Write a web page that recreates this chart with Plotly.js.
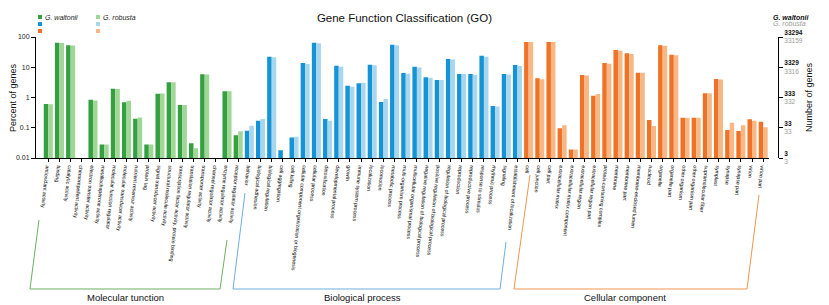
<!DOCTYPE html>
<html>
<head>
<meta charset="utf-8">
<script src="https://cdn.plot.ly/plotly-3.0.1.min.js"></script>
<style>html,body{margin:0;padding:0;background:#fff;}#chart{width:829px;height:305px;}</style>
</head>
<body>
<div id="chart"></div>
<script>
// ---- Data (percent of genes) ----
const mfCats = ["antioxidant activity","binding","catalytic activity","chemorepellent activity","electron transfer activity","metallochaperone activity","molecular function regulator","molecular transducer activity","nutrient reservoir activity","protein tag","signal transducer activity","structural molecule activity","transcription factor activity, protein binding","translation regulator activity","transporter activity","channel regulator activity","enzyme regulator activity","receptor regulator activity"];
const mfWaltonii = [0.61, 65, 53, null, 0.84, 0.028, 1.95, 0.70, 0.20, 0.028, 1.33, 3.2, 0.57, 0.031, 5.9, null, 1.6, 0.056];
const mfRobusta  = [0.60, 63, 52, null, 0.80, 0.028, 1.90, 0.78, 0.22, 0.028, 1.35, 3.2, 0.57, 0.021, 5.8, null, 1.6, 0.077];

const bpCats = ["behavior","biological adhesion","biological regulation","cell aggregation","cell killing","cellular component organization or biogenesis","cellular process","detoxification","developmental process","growth","immune system process","localization","locomotion","metabolic process","multi-organism process","multicellular organismal process","negative regulation of biological process","positive regulation of biological process","regulation of biological process","reproduction","reproductive process","response to stimulus","rhythmic process","signaling","establishment of localization"];
const bpWaltonii = [0.080, 0.171, 22.4, 0.018, 0.048, 13.8, 65, 0.195, 11.3, 2.46, 2.94, 12.2, 0.71, 55.8, 6.46, 10.4, 4.64, 3.79, 18.7, 5.98, 5.98, 24.1, 0.52, 5.98, 11.9];
const bpRobusta  = [0.117, 0.195, 21.3, null, 0.050, 12.8, 62, 0.171, 10.4, 2.28, 3.10, 11.6, 0.89, 53.0, 6.10, 9.9, 4.50, 3.79, 17.9, 5.98, 5.70, 22.4, 0.50, 5.80, 11.0];

const ccCats = ["cell","cell junction","cell part","extracellular matrix","extracellular matrix component","extracellular region","extracellular region part","protein-containing complex","membrane","membrane part","membrane-enclosed lumen","nucleoid","organelle","organelle part","other organism","other organism part","supramolecular fiber","symplast","synapse","synapse part","virion","virion part"];
const ccWaltonii = [68, 4.3, 68, 0.096, 0.019, 5.5, 1.15, 13.8, 37, 28.9, 6.6, 0.18, 53, 26, 0.215, 0.215, 1.37, 4.1, 0.084, 0.078, 0.19, 0.159];
const ccRobusta  = [68, 3.98, 68, 0.12, 0.019, 5.3, 1.31, 13.0, 35, 27.5, 6.6, 0.114, 51, 25, 0.215, 0.215, 1.37, 3.9, 0.147, 0.12, 0.17, 0.103];

const groupNames = ["Molecular tunction","Biological process","Cellular component"];
const speciesNames = ["G. waltonii","G. robusta"];
const totalWaltonii = 33294;
const totalRobusta = 33159;
const pctTicks = [0.01, 0.1, 1, 10, 100];

// ---- Styles ----
const darkCols  = ["rgb(52,160,66)","rgb(20,148,214)","rgb(240,114,38)"];
const lightCols = ["rgb(160,214,150)","rgb(168,214,236)","rgb(248,184,134)"];
const bracketCols = ["rgb(110,175,100)","rgb(110,175,225)","rgb(240,150,80)"];

const cats = mfCats.concat(bpCats, ccCats);
const wVals = mfWaltonii.concat(bpWaltonii, ccWaltonii);
const rVals = mfRobusta.concat(bpRobusta, ccRobusta);
const grp = mfCats.map(()=>0).concat(bpCats.map(()=>1), ccCats.map(()=>2));

const W = 829, H = 305;
const mL = 36, mR = 51, mT = 37, mB = 147;
const pw = W - mL - mR, ph = H - mT - mB;
const px = v => (v - mL) / pw;
const py = v => (H - mB - v) / ph;

const traces = [
  {type:'bar', name:speciesNames[0], x:cats, y:wVals, marker:{color:grp.map(g=>darkCols[g])}, showlegend:false, hoverinfo:'x+y'},
  {type:'bar', name:speciesNames[1], x:cats, y:rVals, marker:{color:grp.map(g=>lightCols[g])}, showlegend:false, hoverinfo:'x+y'},
  {type:'scatter', mode:'markers', x:[cats[0]], y:[1], yaxis:'y2', marker:{opacity:0}, showlegend:false, hoverinfo:'skip'}
];

const rightText = pctTicks.map(p => "<b>" + Math.round(totalWaltonii*p/100) + "</b><br><span style='color:#9a9a9a'>" + Math.round(totalRobusta*p/100) + "</span>");

const font = "Liberation Sans, Arial, sans-serif";
const shapes = [];
const annotations = [];

// legend squares + labels (top-left)
[0,1,2].forEach(i => {
  const y0 = 15 + i*7;
  shapes.push({type:'rect', xref:'paper', yref:'paper', x0:px(38), x1:px(42), y0:py(y0), y1:py(y0+4), fillcolor:darkCols[i], line:{width:0}});
  shapes.push({type:'rect', xref:'paper', yref:'paper', x0:px(96), x1:px(100), y0:py(y0), y1:py(y0+4), fillcolor:lightCols[i], line:{width:0}});
});
annotations.push({xref:'paper', yref:'paper', x:px(43), y:py(17), xanchor:'left', yanchor:'middle', showarrow:false, text:"<i>"+speciesNames[0]+"</i>", font:{size:7, color:'#222', family:font}});
annotations.push({xref:'paper', yref:'paper', x:px(101), y:py(17), xanchor:'left', yanchor:'middle', showarrow:false, text:"<i>"+speciesNames[1]+"</i>", font:{size:7, color:'#222', family:font}});
// top-right species key
annotations.push({xref:'paper', yref:'paper', x:px(771), y:py(17), xanchor:'left', yanchor:'middle', showarrow:false, text:"<b><i>"+speciesNames[0]+"</i></b>", font:{size:7, color:'#111', family:font}});
annotations.push({xref:'paper', yref:'paper', x:px(771), y:py(24), xanchor:'left', yanchor:'middle', showarrow:false, text:"<i>"+speciesNames[1]+"</i>", font:{size:7, color:'#9a9a9a', family:font}});
// left axis title
annotations.push({xref:'paper', yref:'paper', x:px(13), y:py(98), xanchor:'center', yanchor:'middle', showarrow:false, textangle:-90, text:"Percent of genes", font:{size:9, color:'#111', family:font}});

// group brackets
const brackets = [
  [[39,220],[30,289],[220,289],[227,240]],
  [[245,193],[233,289],[500,289],[506,242]],
  [[530,175],[514,289],[747,289],[759,195]]
];
const labelPos = [[125,297],[362,297],[625,297]];
brackets.forEach((b,i) => {
  const path = b.map((p,k) => (k?'L':'M') + px(p[0]).toFixed(5) + ',' + py(p[1]).toFixed(5)).join(' ');
  shapes.push({type:'path', xref:'paper', yref:'paper', path:path, line:{color:bracketCols[i], width:1}});
  annotations.push({xref:'paper', yref:'paper', x:px(labelPos[i][0]), y:py(labelPos[i][1]), xanchor:'center', yanchor:'middle', showarrow:false, text:groupNames[i], font:{size:9.5, color:'#111', family:font}});
});

const layout = {
  width: W, height: H,
  margin: {l:mL, r:mR, t:mT, b:mB, pad:0},
  paper_bgcolor:'#fff', plot_bgcolor:'#fff',
  font: {family:font, color:'#222'},
  title: {text:"Gene Function Classification (GO)", x:px(398), xanchor:'center', y:1-18/H, yanchor:'middle', font:{size:11.5, color:'#111', family:font}},
  barmode:'group', bargap:0.19, bargroupgap:0,
  xaxis: {type:'category', domain:[0, (769-mL)/pw], range:[-1.1, 64.52], showline:true, linecolor:'#000', linewidth:1,
          ticks:'outside', ticklen:3, tickcolor:'#000', tickangle:96, tickfont:{size:5.2, color:'#000', family:font},
          showgrid:false, zeroline:false, automargin:false},
  yaxis: {type:'log', range:[-2,2], tickvals:pctTicks, ticktext:["0.01","0.1","1","10","100"], showline:true, linecolor:'#000', linewidth:1,
          ticks:'outside', ticklen:4, tickcolor:'#000', tickfont:{size:7, color:'#222', family:font}, showgrid:false, zeroline:false,
          automargin:false},
  yaxis2: {type:'log', range:[-2,2], overlaying:'y', side:'right', anchor:'free', position:1, tickvals:pctTicks, ticktext:rightText,
          showline:true, linecolor:'#000', linewidth:1, ticks:'outside', ticklen:4, tickcolor:'#000',
          tickfont:{size:6.5, color:'#111', family:font}, showgrid:false, zeroline:false,
          title:{text:"Number of genes", font:{size:9, color:'#111', family:font}, standoff:3}, automargin:false},
  shapes: shapes,
  annotations: annotations
};

Plotly.newPlot('chart', traces, layout, {displayModeBar:false, staticPlot:true});
</script>
</body>
</html>
